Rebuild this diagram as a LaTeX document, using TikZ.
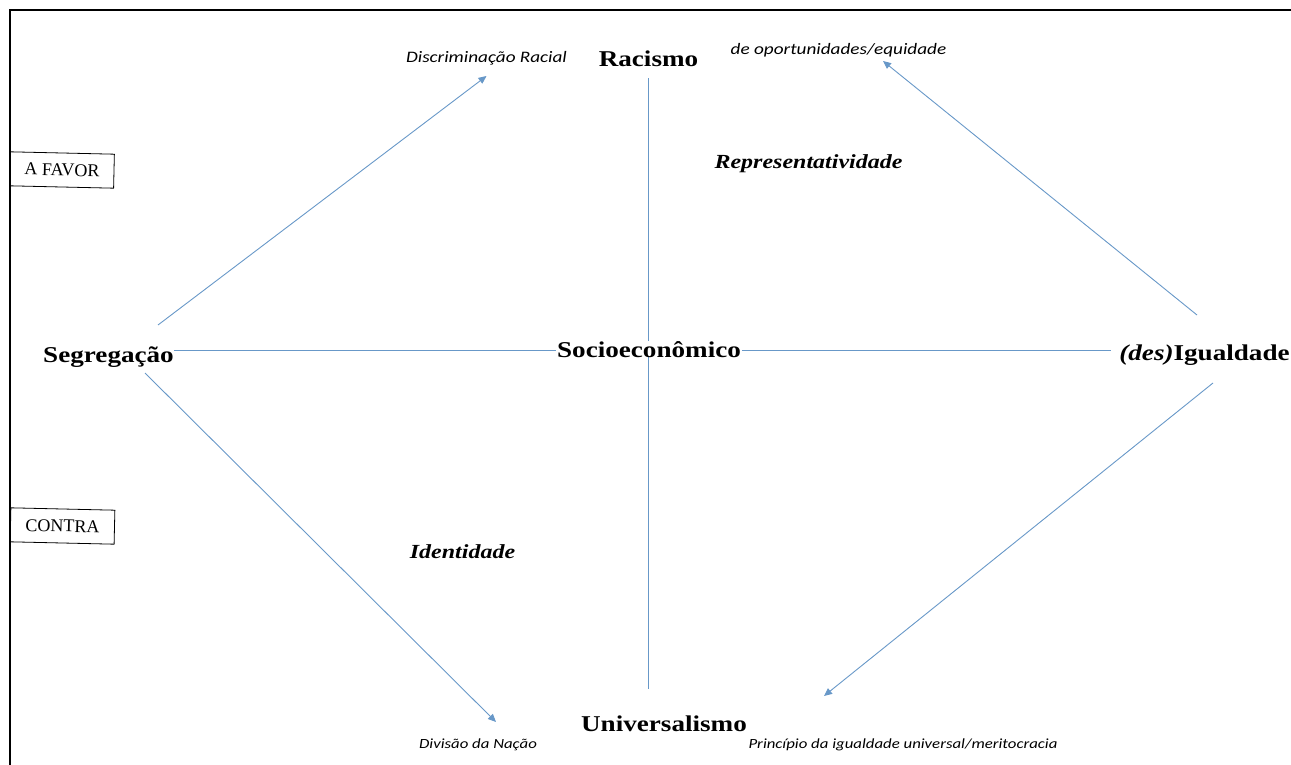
\documentclass[tikz,border=0pt]{standalone}
\usepackage{fontspec}
\setmainfont{Liberation Serif}[FakeStretch=1.2]
\newfontfamily\calibri{Carlito}[FakeStretch=1.2]
\newfontfamily\boxfont{Liberation Serif}
\usetikzlibrary{arrows.meta,positioning,calc}
\definecolor{linkblue}{RGB}{104,152,200}
\tikzset{
    term/.style={
        inner sep=0pt,
        anchor=base,
        font=\fontsize{22.6}{26}\selectfont\bfseries
    },
    theme/.style={
        inner sep=0pt,
        anchor=base,
        font=\fontsize{20}{24}\selectfont\bfseries\itshape
    },
    note/.style={
        inner sep=0pt,
        anchor=base,
        font=\calibri\fontsize{16}{19}\selectfont\itshape
    },
    smallnote/.style={
        note,
        font=\calibri\fontsize{14}{16}\selectfont\itshape
    },
    side/.style={
        draw=black,
        line width=0.8pt,
        rectangle,
        minimum width=104pt,
        minimum height=34pt,
        inner xsep=0pt,
        rotate=-1.3,
        font=\boxfont\fontsize{18}{20}\selectfont
    },
    link/.style={
        draw=linkblue,
        line width=0.9pt,
        -{Triangle[length=8pt,width=7pt]}
    },
    axis/.style={
        draw=linkblue,
        line width=0.9pt
    },
    frame/.style={
        draw=black,
        line width=2pt
    },
}
\begin{document}
\begin{tikzpicture}[x=1pt, y=-1pt]
    \useasboundingbox (0,0) rectangle (1291,765);
    \draw[frame] (10,765) -- (10,10) -- (1291,10);

    % blocks
    \node[term] (racismo) at (648.5,67) {Racismo};
    \node[term] (segreg) at (108.5,362) {Segregação};
    \node[term] (desig) at (1204.5,360) {{\itshape (des)}Igualdade};
    \node[term] (univ) at (664,731) {Universalismo};
    \node[theme] (repres) at (808.5,168) {Representatividade};
    \node[theme] (ident) at (462.5,558) {Identidade};
    \node[note] (discrim) at (486.5,63) {Discriminação Racial};
    \node[note] (oport) at (838.5,55) {de oportunidades/equidade};
    \node[smallnote] (divisao) at (478,748) {Divisão da Nação};
    \node[smallnote] (princ) at (903,748) {Princípio da igualdade universal/meritocracia};
    \node[side] (favor) at (62,170) {A FAVOR};
    \node[side] (contra) at (62.5,526) {CONTRA};

    % lines
    \draw[link] ($(segreg.base)+(49.5,-37)$) -- ($(discrim.base)+(0,13)$);
    \draw[axis] ($(segreg.base east)+(0,-12)$) -- ($(desig.base west)+(-8,-10)$);
    \draw[link] ($(segreg.base)+(36.5,11)$) -- ($(divisao.base)+(18,-26)$);
    \draw[axis] ([yshift=-11pt]racismo.south) -- ([yshift=26pt]racismo.south |- univ.north);
    \draw[link] ($(desig.base)+(-7.5,-45)$) -- ($(oport.base)+(44.5,6)$);
    \draw[link] ($(desig.base)+(8.5,23)$) -- ($(princ.base)+(-79,-52)$);

    % centre label over the crossing
    \node[term, fill=white, inner xsep=1pt] (socio) at (649,357) {Socioeconômico};
\end{tikzpicture}
\end{document}
